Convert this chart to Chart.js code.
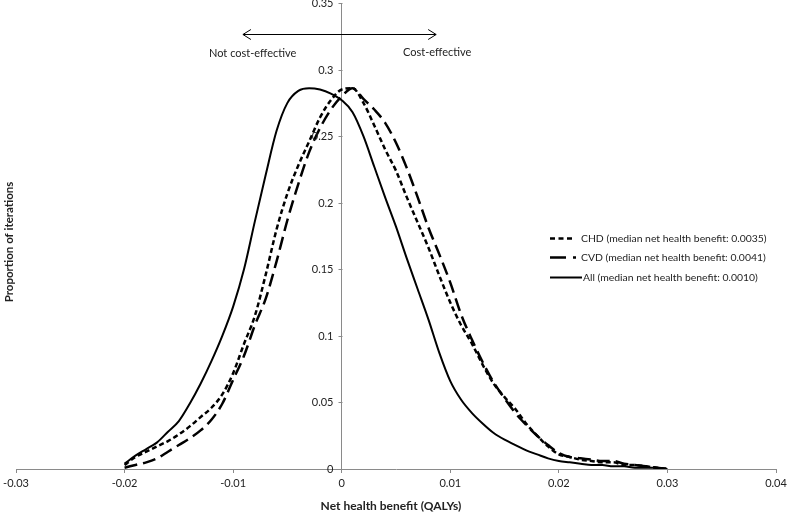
<!DOCTYPE html>
<html>
<head>
<meta charset="utf-8">
<script src="https://cdn.jsdelivr.net/npm/chart.js@4.4.1/dist/chart.umd.min.js"></script>
<style>
  html, body { margin: 0; padding: 0; background: #fff; }
  #wrap { width: 787px; height: 513px; }
</style>
</head>
<body>
<div id="wrap"><canvas id="nhbChart" width="787" height="513"></canvas></div>
<script>
// Net health benefit (QALYs) grid
const netBenefit = [
  -0.020, -0.019, -0.018, -0.017, -0.016, -0.015, -0.014, -0.013, -0.012, -0.011,
  -0.010, -0.009, -0.008, -0.007, -0.006, -0.005, -0.004, -0.003, -0.002, -0.001,
   0.000,  0.001,  0.002,  0.003,  0.004,  0.005,  0.006,  0.007,  0.008,  0.009,
   0.010,  0.011,  0.012,  0.013,  0.014,  0.015,  0.016,  0.017,  0.018,  0.019,
   0.020,  0.021,  0.022,  0.023,  0.024,  0.025,  0.026,  0.027,  0.028,  0.029,
   0.030
];

// Proportion of iterations
const chdValues = [
  0.003, 0.009, 0.013, 0.017, 0.021, 0.026, 0.032, 0.039, 0.046, 0.056,
  0.072, 0.094, 0.115, 0.146, 0.180, 0.207, 0.228, 0.246, 0.264, 0.277,
  0.285, 0.286, 0.275, 0.258, 0.240, 0.224, 0.204, 0.185, 0.166, 0.145,
  0.125, 0.108, 0.094, 0.078, 0.064, 0.054, 0.045, 0.034, 0.025, 0.017,
  0.011, 0.009, 0.007, 0.006, 0.005, 0.005, 0.003, 0.003, 0.002, 0.001,
  0.000
];
const cvdValues = [
  0.001, 0.003, 0.005, 0.008, 0.013, 0.018, 0.023, 0.029, 0.037, 0.049,
  0.067, 0.085, 0.108, 0.128, 0.156, 0.187, 0.214, 0.238, 0.256, 0.270,
  0.280, 0.286, 0.278, 0.270, 0.260, 0.245, 0.226, 0.204, 0.181, 0.161,
  0.140, 0.116, 0.097, 0.080, 0.065, 0.053, 0.042, 0.033, 0.025, 0.018,
  0.012, 0.009, 0.008, 0.007, 0.006, 0.006, 0.004, 0.003, 0.002, 0.001,
  0.000
];
const allValues = [
  0.004, 0.010, 0.015, 0.020, 0.028, 0.036, 0.049, 0.064, 0.081, 0.100,
  0.122, 0.150, 0.186, 0.221, 0.254, 0.275, 0.284, 0.286, 0.285, 0.282,
  0.277, 0.268, 0.250, 0.227, 0.204, 0.182, 0.158, 0.135, 0.112, 0.087,
  0.066, 0.052, 0.042, 0.034, 0.027, 0.022, 0.018, 0.014, 0.011, 0.008,
  0.006, 0.005, 0.004, 0.003, 0.003, 0.002, 0.002, 0.001, 0.001, 0.001,
  0.000
];

const seriesLabels = [
  'CHD (median net health benefit: 0.0035)',
  'CVD (median net health benefit: 0.0041)',
  'All (median net health benefit: 0.0010)'
];

// annotation arrow, in data units
const arrowLevel = 0.327;
const arrowSpan = [-0.0091, 0.0087];
const sideLabels = [
  { text: 'Not cost-effective', x: -0.0082, y: 0.312 },
  { text: 'Cost-effective', x: 0.0088, y: 0.313 }
];

const FONT = 'Lato, "Open Sans", sans-serif';
const TEXT = '#222';
const AXIS = '#8a8a8a';

function toPoints(values) {
  return values.map((v, i) => ({ x: netBenefit[i], y: v }));
}

function tickText(v) {
  return String(parseFloat(Number(v).toFixed(2)));
}

// y ticks at the crossing axis, arrow, captions, titles and the legend
const overlayPlugin = {
  id: 'overlay',
  afterDraw(chart) {
    const { ctx, scales: { x, y } } = chart;
    ctx.save();

    // y axis tick marks + labels, left of the axis at x = 0
    const axisX = Math.round(x.getPixelForValue(0)) + 0.5;
    ctx.strokeStyle = AXIS;
    ctx.lineWidth = 1;
    ctx.fillStyle = TEXT;
    ctx.font = '11px ' + FONT;
    ctx.textAlign = 'right';
    ctx.textBaseline = 'middle';
    y.ticks.forEach(t => {
      const py = Math.round(y.getPixelForValue(t.value)) + 0.5;
      ctx.beginPath();
      ctx.moveTo(axisX - 4, py);
      ctx.lineTo(axisX, py);
      ctx.stroke();
      ctx.fillText(tickText(t.value), axisX - 9, py);
    });

    // double arrow
    const ay = Math.round(y.getPixelForValue(arrowLevel)) + 0.5;
    const ax1 = x.getPixelForValue(arrowSpan[0]);
    const ax2 = x.getPixelForValue(arrowSpan[1]);
    ctx.strokeStyle = '#000';
    ctx.beginPath();
    ctx.moveTo(ax1, ay); ctx.lineTo(ax2, ay);
    ctx.moveTo(ax1 + 8, ay - 5); ctx.lineTo(ax1, ay); ctx.lineTo(ax1 + 8, ay + 5);
    ctx.moveTo(ax2 - 8, ay - 5); ctx.lineTo(ax2, ay); ctx.lineTo(ax2 - 8, ay + 5);
    ctx.stroke();

    ctx.textAlign = 'center';
    sideLabels.forEach(l => {
      ctx.fillText(l.text, x.getPixelForValue(l.x), y.getPixelForValue(l.y));
    });

    // axis titles
    ctx.font = 'bold 12px ' + FONT;
    ctx.fillText('Net health benefit (QALYs)', 391, 506);
    ctx.font = 'bold 11.5px ' + FONT;
    ctx.save();
    ctx.translate(9, 242);
    ctx.rotate(-Math.PI / 2);
    ctx.fillText('Proportion of iterations', 0, 0);
    ctx.restore();

    // legend
    ctx.font = '10.4px ' + FONT;
    ctx.textAlign = 'left';
    const rowY = [238, 257, 277];
    const sampleEnd = [574, 576, 582];
    chart.data.datasets.forEach((ds, i) => {
      const yy = rowY[i] + 0.5;
      ctx.strokeStyle = '#000';
      ctx.lineWidth = ds.borderWidth;
      ctx.setLineDash(ds.legendDash || []);
      ctx.beginPath();
      ctx.moveTo(550, yy);
      ctx.lineTo(sampleEnd[i], yy);
      ctx.stroke();
      ctx.setLineDash([]);
      ctx.fillText(ds.label, i === 2 ? 583 : 581, yy);
    });

    ctx.restore();
  }
};

new Chart(document.getElementById('nhbChart'), {
  type: 'line',
  data: {
    datasets: [
      {
        label: seriesLabels[0],
        data: toPoints(chdValues),
        borderColor: '#000',
        borderWidth: 2.5,
        borderDash: [5, 3],
        legendDash: [5, 3.5],
        pointRadius: 0,
        cubicInterpolationMode: 'monotone'
      },
      {
        label: seriesLabels[1],
        data: toPoints(cvdValues),
        borderColor: '#000',
        borderWidth: 2.5,
        borderDash: [13, 6],
        legendDash: [16, 7],
        pointRadius: 0,
        cubicInterpolationMode: 'monotone'
      },
      {
        label: seriesLabels[2],
        data: toPoints(allValues),
        borderColor: '#000',
        borderWidth: 2,
        pointRadius: 0,
        cubicInterpolationMode: 'monotone'
      }
    ]
  },
  options: {
    responsive: false,
    animation: false,
    events: [],
    layout: { autoPadding: false, padding: { left: 16, right: 11, top: 3, bottom: 0 } },
    plugins: {
      legend: { display: false },
      tooltip: { enabled: false }
    },
    scales: {
      x: {
        type: 'linear',
        min: -0.03,
        max: 0.04,
        // fixed axis height, and no extra room reserved for the end labels
        afterFit(scale) {
          scale.height = 44;
          scale.paddingLeft = 0;
          scale.paddingRight = 0;
        },
        border: { color: AXIS, width: 1 },
        grid: { drawOnChartArea: false, drawTicks: true, tickLength: 4, color: AXIS },
        ticks: {
          stepSize: 0.01,
          padding: 4,
          color: TEXT,
          font: { family: FONT, size: 11 },
          maxRotation: 0,
          callback: tickText
        }
      },
      y: {
        type: 'linear',
        position: { x: 0 },
        min: 0,
        max: 0.35,
        border: { color: AXIS, width: 1 },
        grid: { drawOnChartArea: false, drawTicks: false },
        ticks: { display: false, stepSize: 0.05 }
      }
    }
  },
  plugins: [overlayPlugin]
});
</script>
</body>
</html>
